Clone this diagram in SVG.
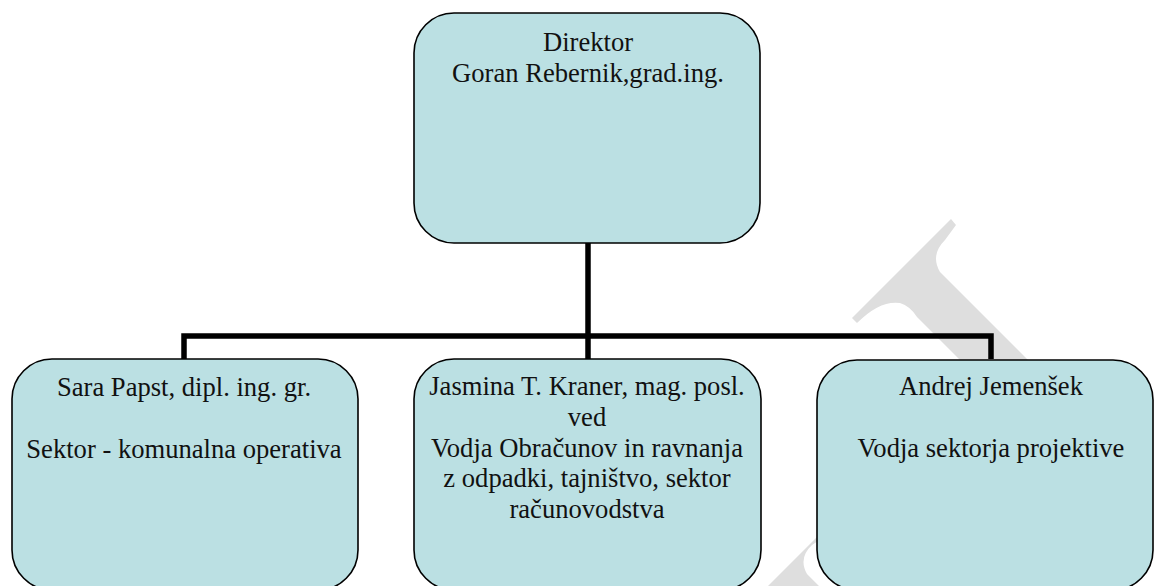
<svg xmlns="http://www.w3.org/2000/svg" width="1154" height="586" viewBox="0 0 1154 586">
  <style>
    .box { fill: #bbe0e3; stroke: #000000; stroke-width: 1.6; }
    .lbl { font-family: "Liberation Serif", "Times New Roman", serif; font-size: 26.6px; fill: #111111; text-anchor: middle; }
    .conn { fill: none; stroke: #000000; stroke-width: 5.5; stroke-linejoin: miter; stroke-linecap: butt; }
    .wm { fill: #dedede; stroke: none; }
  </style>
  <rect width="1154" height="586" fill="#ffffff"/>
  <g id="watermark">
    <path class="wm" d="M951,219 L852,318 L857,323 Q880,300 900,303 Q910,306 917,317 L1100,500 L1140,472 L940,272 Q930,255 945,240 L956,225 Z"/>
    <path class="wm" d="M823,531 L757,597 L830,597 L807,574 Q798,558 812,545 L827,535 Z"/>
  </g>
  <g id="connectors">
    <path class="conn" d="M588,243 V359"/>
    <path class="conn" d="M184,359 V336 H991 V359"/>
  </g>
  <g id="node-director">
    <rect class="box" x="414" y="13" width="346" height="230" rx="40" ry="40"/>
    <text class="lbl" x="588" y="51">Direktor</text>
    <text class="lbl" x="588" y="82">Goran Rebernik,grad.ing.</text>
  </g>
  <g id="node-sara">
    <rect class="box" x="12" y="359" width="346" height="231" rx="40" ry="40"/>
    <text class="lbl" x="184" y="396">Sara Papst, dipl. ing. gr.</text>
    <text class="lbl" x="184" y="458">Sektor - komunalna operativa</text>
  </g>
  <g id="node-jasmina">
    <rect class="box" x="414" y="359" width="347" height="231" rx="40" ry="40"/>
    <text class="lbl" x="587" y="395">Jasmina T. Kraner, mag. posl.</text>
    <text class="lbl" x="587" y="426">ved</text>
    <text class="lbl" x="587" y="457">Vodja Obračunov in ravnanja</text>
    <text class="lbl" x="587" y="487">z odpadki, tajništvo, sektor</text>
    <text class="lbl" x="587" y="518">računovodstva</text>
  </g>
  <g id="node-andrej">
    <rect class="box" x="817" y="360" width="336" height="230" rx="40" ry="40"/>
    <text class="lbl" x="991" y="395">Andrej Jemenšek</text>
    <text class="lbl" x="991" y="457">Vodja sektorja projektive</text>
  </g>
</svg>
